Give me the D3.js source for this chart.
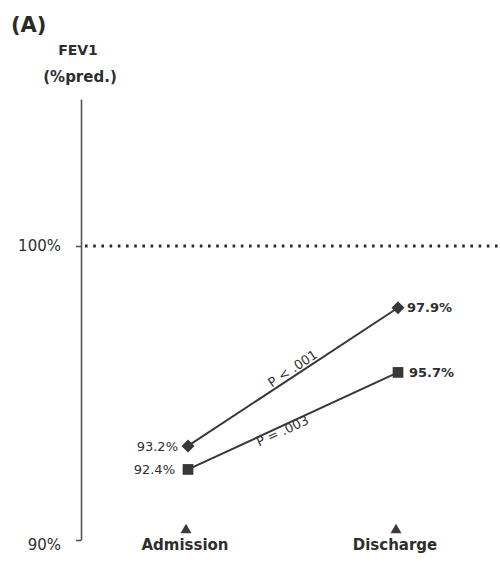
<!DOCTYPE html>
<html>
<head>
<meta charset="utf-8">
<script src="https://cdn.jsdelivr.net/npm/d3@7/dist/d3.min.js"></script>
<style>
  html, body { margin: 0; padding: 0; background: #fff; }
  svg { display: block; }
  text { font-family: "DejaVu Sans", Verdana, sans-serif; fill: #2e2e2e; }
</style>
</head>
<body>
<svg id="chart" width="500" height="564"></svg>
<script>
// FEV1 (% predicted) at admission and at discharge, two patient groups
const categories = ["Admission", "Discharge"];
const diamondSeries = [93.2, 97.9];
const squareSeries = [92.4, 95.7];
const pLabels = ["P < .001", "P = .003"];
const yTickValues = [90, 100];
const referenceLine = 100;

const svg = d3.select("#chart");
const ink = "#383838";

const x = d3.scalePoint().domain(categories).range([188, 398]);
const y = d3.scaleLinear().domain([90, 105]).range([540, 99]);

// Panel letter and y-axis title
svg.append("text").attr("x", 11).attr("y", 32)
  .style("font-size", "21px").style("font-weight", "bold").style("fill", "#2a2a2a")
  .text("(A)");
svg.append("text").attr("x", 78).attr("y", 55).attr("text-anchor", "middle")
  .style("font-size", "14px").style("font-weight", "bold")
  .text("FEV1");
svg.append("text").attr("x", 80).attr("y", 82).attr("text-anchor", "middle")
  .style("font-size", "15px").style("font-weight", "bold")
  .text("(%pred.)");

// Y axis
const yAxis = d3.axisLeft(y)
  .tickValues(yTickValues)
  .tickSize(5)
  .tickSizeOuter(0)
  .tickPadding(15)
  .tickFormat(d => d + "%");
const gy = svg.append("g").attr("transform", "translate(81,0)").call(yAxis);
gy.select(".domain").attr("stroke", "#555").attr("stroke-width", 1.6);
gy.selectAll(".tick line").attr("stroke", "#555").attr("stroke-width", 1.6);
gy.selectAll(".tick text")
  .style("font-size", "15px").style("font-family", "\"DejaVu Sans\", Verdana, sans-serif")
  .attr("fill", "#222");
gy.selectAll(".tick").filter(d => d === 90).select("text").attr("dy", "0.62em");

// Dotted reference line at 100%
svg.append("line")
  .attr("x1", 85).attr("x2", 500)
  .attr("y1", y(referenceLine)).attr("y2", y(referenceLine))
  .attr("stroke", "#2a2a2a").attr("stroke-width", 3)
  .attr("stroke-dasharray", "2.6,5.6");

// Category markers and labels on the time axis
const catG = svg.append("g");
catG.selectAll("path.tri").data(categories).join("path")
  .attr("class", "tri")
  .attr("d", d3.symbol(d3.symbolTriangle, 52))
  .attr("transform", d => `translate(${x(d) - 2},530)`)
  .attr("fill", "#3a3a3a");
catG.selectAll("text").data(categories).join("text")
  .attr("x", d => x(d) - 3).attr("y", 550)
  .attr("text-anchor", "middle")
  .style("font-size", "15px").style("font-weight", "bold")
  .text(d => d);

// Connecting lines
const line = d3.line().x((v, i) => x(categories[i])).y(v => y(v));
[diamondSeries, squareSeries].forEach(s => {
  svg.append("path").attr("d", line(s))
    .attr("fill", "none").attr("stroke", ink).attr("stroke-width", 2);
});

// Markers
svg.selectAll("path.diamond").data(diamondSeries).join("path")
  .attr("class", "diamond")
  .attr("d", d3.symbol(d3.symbolSquare, 85))
  .attr("transform", (v, i) => `translate(${x(categories[i])},${y(v)}) rotate(45)`)
  .attr("fill", ink);
svg.selectAll("path.square").data(squareSeries).join("path")
  .attr("class", "square")
  .attr("d", d3.symbol(d3.symbolSquare, 115))
  .attr("transform", (v, i) => `translate(${x(categories[i])},${y(v)})`)
  .attr("fill", ink);

// Value labels
function valueLabels(series, cls, leftGap, rightGap) {
  svg.selectAll("text." + cls).data(series).join("text")
    .attr("class", cls)
    .attr("x", (v, i) => i === 0 ? x(categories[i]) - leftGap : x(categories[i]) + rightGap)
    .attr("y", v => y(v))
    .attr("dy", "0.36em")
    .attr("text-anchor", (v, i) => i === 0 ? "end" : "start")
    .style("font-size", "13px")
    .style("font-weight", (v, i) => i === 0 ? "normal" : "bold")
    .text(v => v.toFixed(1) + "%");
}
valueLabels(diamondSeries, "dlab", 10, 9);
valueLabels(squareSeries, "slab", 13, 11);

// P-value annotations along each line
[[diamondSeries, pLabels[0], -10], [squareSeries, pLabels[1], 11]].forEach(([s, label, off]) => {
  const x0 = x(categories[0]), x1 = x(categories[1]);
  const y0 = y(s[0]), y1 = y(s[1]);
  const ang = Math.atan2(y1 - y0, x1 - x0);
  const mx = (x0 + x1) / 2 - 6, my = (y0 + y1) / 2;
  const px = mx - Math.sin(ang) * -off, py = my + Math.cos(ang) * off;
  svg.append("text")
    .attr("transform", `translate(${px},${py}) rotate(${ang * 180 / Math.PI})`)
    .attr("text-anchor", "middle").attr("dy", "0.35em")
    .style("font-size", "13px").style("fill", "#333")
    .text(label);
});
</script>
</body>
</html>
